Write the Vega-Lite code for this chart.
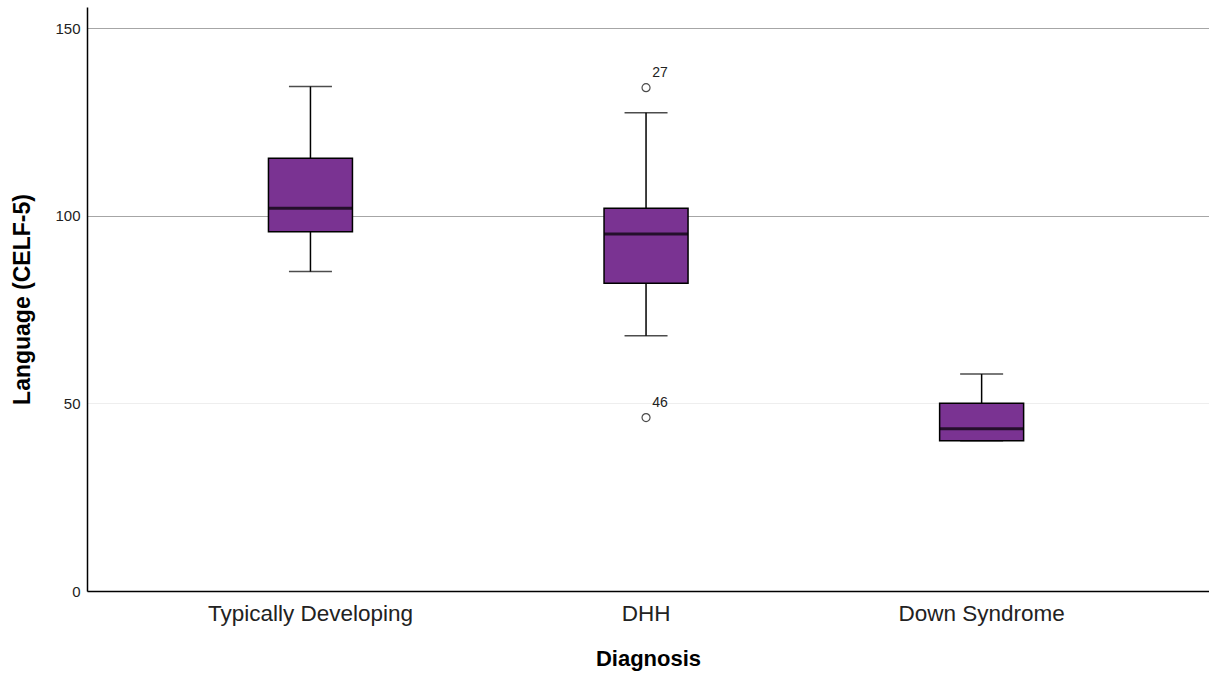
{
  "$schema": "https://vega.github.io/schema/vega-lite/v6.json",
  "width": 1122,
  "height": 584,
  "autosize": {"type": "none"},
  "padding": {"left": 87, "top": 7, "right": 0, "bottom": 86},
  "background": "white",
  "config": {
    "view": {"stroke": null},
    "font": "Liberation Sans"
  },
  "datasets": {
    "stats": [
      {"Diagnosis": "Typically Developing", "low": 85.1, "q1": 95.7, "median": 102.0, "q3": 115.3, "high": 134.4},
      {"Diagnosis": "DHH", "low": 68.0, "q1": 82.0, "median": 95.1, "q3": 102.0, "high": 127.4},
      {"Diagnosis": "Down Syndrome", "low": 40.0, "q1": 40.0, "median": 43.2, "q3": 50.0, "high": 57.8}
    ],
    "outliers": [
      {"Diagnosis": "DHH", "value": 134.1, "case": "27"},
      {"Diagnosis": "DHH", "value": 46.2, "case": "46"}
    ]
  },
  "encoding": {
    "x": {
      "field": "Diagnosis",
      "type": "nominal",
      "sort": ["Typically Developing", "DHH", "Down Syndrome"],
      "scale": {"type": "band", "paddingInner": 0, "paddingOuter": 0.1717, "align": 0.483},
      "axis": {
        "title": "Diagnosis",
        "titleFontSize": 22,
        "titleFontWeight": "bold",
        "titleColor": "#000000",
        "titlePadding": 24,
        "labelAngle": 0,
        "labelFontSize": 22.5,
        "labelLimit": 400,
        "labelColor": "#222222",
        "labelPadding": 11,
        "ticks": false,
        "domainColor": "#000000",
        "domainWidth": 1.5,
        "grid": false
      }
    }
  },
  "layer": [
    {
      "data": {"values": [{"v": 0}]},
      "mark": {"type": "rule", "opacity": 0},
      "encoding": {
        "x": null,
        "y": {
          "field": "v",
          "type": "quantitative",
          "scale": {"domain": [0, 155.6], "nice": false, "zero": true},
          "axis": {
            "title": "Language (CELF-5)",
            "titleFontSize": 23,
            "titleFontWeight": "bold",
            "titleColor": "#000000",
            "titlePadding": 20,
            "values": [0, 50, 100, 150],
            "labelFontSize": 15,
            "labelColor": "#222222",
            "labelPadding": 7,
            "ticks": false,
            "domainColor": "#000000",
            "domainWidth": 1.5,
            "grid": true,
            "gridColor": {"condition": {"test": "datum.value == 50", "value": "#eeeeee"}, "value": "#a6a6a6"},
            "gridWidth": 1.2
          }
        }
      }
    },
    {
      "data": {"name": "stats"},
      "mark": {"type": "rule", "color": "#000000", "strokeWidth": 1.5},
      "encoding": {
        "y": {"field": "low", "type": "quantitative"},
        "y2": {"field": "high"}
      }
    },
    {
      "data": {"name": "stats"},
      "mark": {"type": "tick", "color": "#000000", "thickness": 1.5, "size": 43, "orient": "horizontal"},
      "encoding": {
        "y": {"field": "high", "type": "quantitative"}
      }
    },
    {
      "data": {"name": "stats"},
      "mark": {"type": "tick", "color": "#000000", "thickness": 1.5, "size": 43, "orient": "horizontal"},
      "encoding": {
        "y": {"field": "low", "type": "quantitative"}
      }
    },
    {
      "data": {"name": "stats"},
      "mark": {"type": "bar", "fill": "#7a3392", "stroke": "#000000", "strokeWidth": 1.5, "width": 84},
      "encoding": {
        "y": {"field": "q1", "type": "quantitative"},
        "y2": {"field": "q3"}
      }
    },
    {
      "data": {"name": "stats"},
      "mark": {"type": "tick", "color": "#000000", "thickness": 3, "size": 84, "orient": "horizontal"},
      "encoding": {
        "y": {"field": "median", "type": "quantitative"}
      }
    },
    {
      "data": {"name": "outliers"},
      "mark": {"type": "point", "shape": "circle", "filled": false, "stroke": "#000000", "strokeWidth": 1.2, "size": 64},
      "encoding": {
        "y": {"field": "value", "type": "quantitative"}
      }
    },
    {
      "data": {"name": "outliers"},
      "mark": {"type": "text", "fontSize": 14, "color": "#222222", "dx": 14, "dy": -15},
      "encoding": {
        "y": {"field": "value", "type": "quantitative"},
        "text": {"field": "case"}
      }
    }
  ]
}
